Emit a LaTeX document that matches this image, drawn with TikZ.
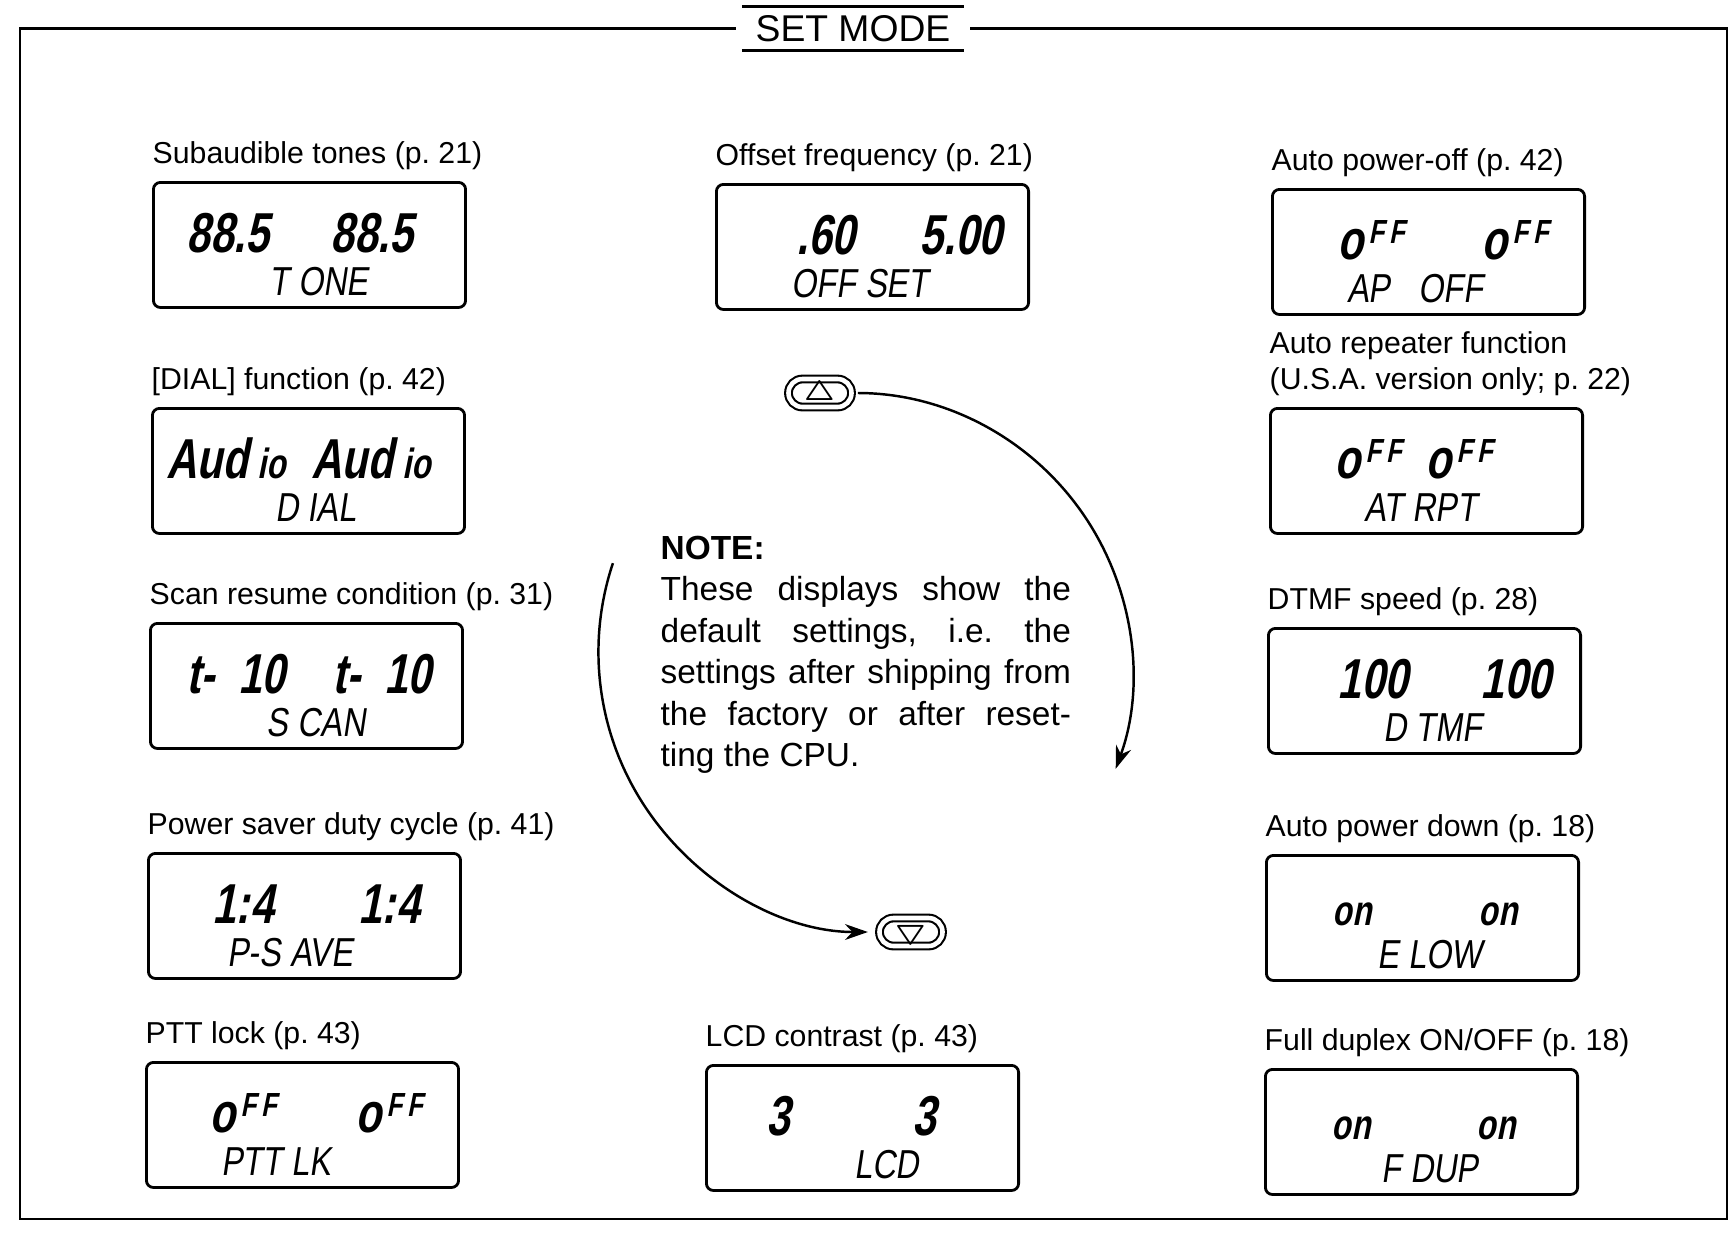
\documentclass[tikz,border=0pt]{standalone}
\usepackage{fontspec}
\setmainfont{Liberation Sans}
\newfontfamily\lcdbigfont[FakeSlant=0.2,FakeStretch=0.75]{Liberation Sans Bold}
\newfontfamily\lcdsmallfont[FakeSlant=0.15,FakeStretch=0.8]{Liberation Sans}
\usetikzlibrary{arrows.meta,calc,positioning,shapes.misc}
\newcommand\lcdoff{o\hspace{1.5pt}\raisebox{4.5pt}{\fontsize{9.5}{9.5}\selectfont F\hspace{1.5pt}F}}
\newcommand\lcdon{{\fontsize{12}{12}\selectfont on}}
\newcommand\lcdaud{Aud\,{\fontsize{12}{12}\selectfont io}}
\frenchspacing

\begin{document}
\begin{tikzpicture}[x=0.01cm,y=0.01cm,>={Stealth[length=6.5pt,width=4.5pt]},
  lcdbox/.style={draw,line width=0.8pt,rounded corners=2pt,minimum width=3.12cm,minimum height=1.25cm,anchor=north west,inner sep=0pt},
  lcdbig/.style={anchor=base,inner sep=0pt,font=\lcdbigfont\fontsize{16}{16}\selectfont},
  lcdsub/.style={anchor=base,inner sep=0pt,font=\lcdsmallfont\fontsize{11.5}{11.5}\selectfont},
  tag/.style={anchor=south west,inner sep=0pt,align=left,font=\fontsize{8.6}{10.2}\selectfont},
  keypad/.style={rounded rectangle,draw,line width=0.6pt,double,double distance=1.3pt,minimum width=0.63cm,minimum height=0.28cm,inner sep=0pt,font=\fontsize{8.5}{8.5}\selectfont\boldmath},
  turn/.style={line width=0.7pt}]
\useasboundingbox (0,0) rectangle (1730,-1233);

% title and frame
\node[inner xsep=3.7pt,inner ysep=2.3pt,font=\fontsize{10.6}{13}\selectfont] (title) at (853,-28.5) {SET MODE};
\draw[line width=0.6pt] (title.north west) -- (title.north east) (title.south west) -- (title.south east);
\draw[line width=0.6pt] ([xshift=-1.7pt]title.west) -| (20,-1219) -| (1727,-28.5) -- ([xshift=1.7pt]title.east);

% displays: name/left/top/label/value/x/value/x/sub/x
\foreach \nm/\x/\y/\lab/\va/\xa/\vb/\xb/\sb/\xs in {
  tone/152/181/{Subaudible tones (p. 21)}/88.5/76/88.5/220/{T ONE}/167,
  dial/151/407/{[DIAL] function (p. 42)}/\lcdaud/75/\lcdaud/220/{D IAL}/165,
  scan/149/622/{Scan resume condition (p. 31)}/{t-~~10}/87/{t-~~10}/233/{S CAN}/167,
  psave/147/852/{Power saver duty cycle (p. 41)}/1:4/96/1:4/242/{P-S AVE}/143,
  pttlk/145/1061/{PTT lock (p. 43)}/\lcdoff/98/\lcdoff/244/{PTT LK}/131,
  offset/715/183/{Offset frequency (p. 21)}/.60/111/5.00/246/{OFF SET}/145,
  lcd/705/1064/{LCD contrast (p. 43)}/3/73/3/219/LCD/182,
  apo/1271/188/{Auto power-off (p. 42)}/\lcdoff/100/\lcdoff/244/{AP\hspace{8pt}OFF}/144,
  arpt/1269/407/{Auto repeater function\\(U.S.A. version only; p. 22)}/\lcdoff/99/\lcdoff/190/{AT RPT}/152,
  dtmf/1267/627/{DTMF speed (p. 28)}/100/106/100/249/{D TMF}/166,
  apd/1265/854/{Auto power down (p. 18)}/\lcdon/87/\lcdon/233/{E LOW}/165,
  fdup/1264/1068/{Full duplex ON/OFF (p. 18)}/\lcdon/87/\lcdon/232/{F DUP}/166}{
  \node[lcdbox] (\nm) at (\x,-\y) {};
  \node[tag] (\nm-tag) at ([yshift=3pt]\nm.north west) {\lab};
  \node[lcdbig] (\nm-a) at ($(\nm.north west)+(\xa,-71)$) {\va};
  \node[lcdbig] (\nm-b) at ($(\nm.north west)+(\xb,-71)$) {\vb};
  \node[lcdsub] (\nm-sub) at ($(\nm.north west)+(\xs,-114)$) {\sb};
}

% note
\node[anchor=north west,inner sep=0pt,text width=4.1cm,align=justify,font=\fontsize{9.5}{11.8}\selectfont] (note) at (660,-535)
  {\textbf{NOTE:}\\ These displays show the\linebreak default settings, i.e. the\linebreak settings after shipping from\linebreak the factory or after reset-\linebreak ting the CPU.};

% up/down keys
\node[keypad] (up) at (820,-393) {$\bigtriangleup$};
\node[keypad] (down) at (911,-932) {$\bigtriangledown$};
\draw[turn,->,shorten <=1.5pt] (up.east) arc[start angle=90,end angle=-20,radius=280];
\draw[turn,<-,shorten <=3pt] (down.west) arc[start angle=270,end angle=161.5,radius=280];
\end{tikzpicture}
\end{document}
